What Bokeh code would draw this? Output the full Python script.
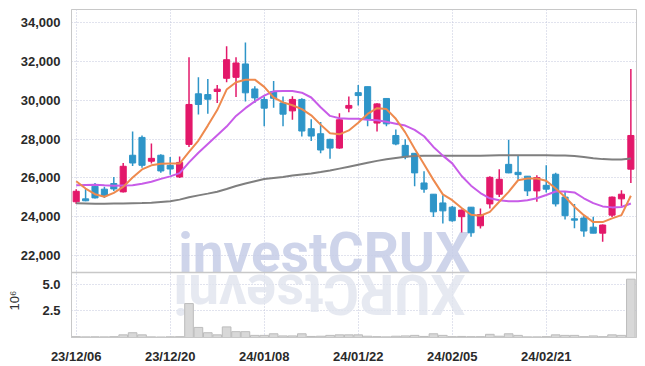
import math
from bokeh.plotting import figure
from bokeh.models import (Range1d, FixedTicker, NumeralTickFormatter, Label, Span, Title,
                          ColumnDataSource)
from bokeh.embed import file_html
from bokeh.resources import INLINE

dates = ["23/12/06", "23/12/07", "23/12/08", "23/12/11", "23/12/12", "23/12/13", "23/12/14", "23/12/15",
         "23/12/18", "23/12/19", "23/12/20", "23/12/21", "23/12/22", "23/12/26", "23/12/27", "23/12/28",
         "24/01/02", "24/01/03", "24/01/04", "24/01/05", "24/01/08", "24/01/09", "24/01/10", "24/01/11",
         "24/01/12", "24/01/15", "24/01/16", "24/01/17", "24/01/18", "24/01/19", "24/01/22", "24/01/23",
         "24/01/24", "24/01/25", "24/01/26", "24/01/29", "24/01/30", "24/01/31", "24/02/01", "24/02/02",
         "24/02/05", "24/02/06", "24/02/07", "24/02/08", "24/02/13", "24/02/14", "24/02/15", "24/02/16",
         "24/02/19", "24/02/20", "24/02/21", "24/02/22", "24/02/23", "24/02/26", "24/02/27", "24/02/28",
         "24/02/29", "24/03/04", "24/03/05", "24/03/06"]

opens = [24770, 24920, 25570, 25420, 25710, 25280, 27170, 28090, 26860, 27170,
         26650, 26050, 27730, 30340, 30300, 30460, 31140, 31190, 31880, 30590,
         30050, 30460, 29870, 29460, 30050, 28540, 28280, 27990, 27540, 29600,
         30400, 30710, 28830, 30100, 28190, 27680, 27270, 25740, 25160, 24710,
         24490, 24000, 24490, 23530, 24660, 25160, 26700, 26290, 26090, 25330,
         25620, 26190, 25010, 23890, 23930, 23460, 23150, 24080, 24920, 26450]
highs = [25420, 25450, 25740, 25540, 26050, 26770, 28400, 28190, 27780, 27220,
         27080, 27100, 32220, 31190, 31110, 30800, 32790, 32220, 32990, 30730,
         30200, 31000, 30200, 30220, 30110, 29030, 28880, 28020, 29340, 30200,
         30800, 30710, 29850, 30100, 28500, 27990, 27270, 26340, 25160, 25110,
         24550, 24370, 24500, 24420, 26090, 26450, 27970, 27170, 26090, 26140,
         26650, 26270, 25280, 24650, 24080, 24000, 23600, 25040, 25370, 31620]
lows = [24650, 24800, 24940, 24970, 25330, 25250, 26620, 26530, 26740, 26270,
        26170, 26000, 27590, 29270, 29310, 29870, 30940, 30170, 29940, 29870,
        28660, 29620, 28660, 29000, 28140, 27900, 27270, 26990, 27500, 29390,
        29740, 28660, 28400, 28670, 27680, 26960, 25570, 25230, 23990, 23650,
        23740, 23190, 22970, 23390, 24420, 25020, 26240, 25910, 25070, 24770,
        25250, 24530, 23860, 23400, 22970, 23150, 22710, 23990, 24540, 25740]
closes = [25310, 24820, 24970, 25090, 25430, 26600, 26770, 26650, 27010, 26360,
          26460, 26800, 29790, 29790, 30060, 30580, 32100, 31930, 30390, 30130,
          29600, 30110, 29290, 30050, 28420, 28160, 27440, 27540, 29000, 29740,
          30250, 29030, 29820, 28790, 27750, 27080, 26260, 25420, 24250, 24300,
          23790, 24340, 23170, 24110, 26030, 25930, 26260, 26170, 25330, 26020,
          25420, 24660, 24050, 23820, 23260, 23150, 23570, 25010, 25160, 28190]

ma_short = [25830, 25450, 25160, 25030, 25230, 25540, 26020, 26440, 26650, 26730,
            26740, 26740, 27340, 27930, 28700, 29500, 30560, 30940, 31070, 31070,
            30700, 30150, 29900, 29750, 29550, 29230, 28750, 28300, 28250, 28450,
            28850, 29300, 29600, 29550, 29050, 28350, 27500, 26700, 25900, 25150,
            24850, 24450, 24100, 24050, 24250, 24770, 25280, 25880, 25970, 25970,
            25850, 25450, 25020, 24510, 24080, 23720, 23720, 23910, 24080, 25080]
ma_mid = [25620, 25640, 25650, 25620, 25600, 25610, 25620, 25700, 25800, 25950,
          26080, 26250, 26800, 27300, 27750, 28200, 28650, 29200, 29600, 29950,
          30250, 30470, 30480, 30480, 30400, 30150, 29650, 29200, 29080, 29050,
          29050, 29000, 28980, 28900, 28800, 28700, 28480, 28150, 27600, 27150,
          26750, 26100, 25600, 25220, 24950, 24850, 24800, 24800, 24850, 24950,
          25120, 25300, 25300, 25250, 24950, 24700, 24530, 24480, 24500, 24680]
ma_long = [24690, 24680, 24670, 24670, 24680, 24680, 24690, 24700, 24720, 24760,
           24800, 24880, 25000, 25100, 25190, 25290, 25430, 25580, 25710, 25830,
           25940, 26000, 26050, 26120, 26180, 26230, 26300, 26380, 26480, 26580,
           26680, 26780, 26880, 26960, 27030, 27090, 27130, 27140, 27150, 27150,
           27150, 27150, 27140, 27150, 27160, 27170, 27170, 27170, 27170, 27170,
           27170, 27160, 27160, 27130, 27080, 27020, 26970, 26950, 26950, 27000]

volumes = [80000, 60000, 70000, 60000, 80000, 250000, 450000, 250000, 60000, 50000,
           70000, 80000, 3200000, 950000, 450000, 250000, 1000000, 550000, 550000, 200000,
           200000, 350000, 150000, 150000, 350000, 100000, 120000, 200000, 250000, 250000,
           250000, 120000, 80000, 60000, 120000, 150000, 200000, 100000, 350000, 200000,
           80000, 100000, 80000, 80000, 300000, 120000, 350000, 200000, 60000, 60000,
           80000, 250000, 200000, 200000, 80000, 150000, 80000, 250000, 200000, 5500000]

price_ticks = [22000, 24000, 26000, 28000, 30000, 32000, 34000]
vol_ticks = [2500000, 5000000]
vol_tick_labels = ["2.5", "5.0"]
vol_unit_label = "10⁶"
date_tick_idx = [0, 10, 20, 30, 40, 50]
watermark = "investCRUX"

RED = "#E3186A"
BLUE = "#2E95C8"
GRID = "#c3c6dc"
AXIS = "#c8c8c8"
LABEL_FONT = "Liberation Sans"

# panel geometry (pixels): price panel above, volume panel below
PRICE_PX, VOL_PX = 263, 65
price_lo, price_hi = 21120, 34690
vol_hi = 6130000
per_px = (price_hi - price_lo) / PRICE_PX
y_start = price_lo - VOL_PX * per_px
vol_end = vol_hi * (PRICE_PX + VOL_PX) / VOL_PX


def vol_to_price(v):
    return int(round(y_start + v / vol_end * (price_hi - y_start)))


idx = list(range(len(dates)))
src = ColumnDataSource(dict(
    x=idx, high=highs, low=lows,
    top=[max(o, c) for o, c in zip(opens, closes)],
    bottom=[min(o, c) for o, c in zip(opens, closes)],
    color=[RED if c >= o else BLUE for o, c in zip(opens, closes)],
))

p = figure(width=645, height=366, x_range=Range1d(-0.5, 59.6), y_range=Range1d(y_start, price_hi),
           toolbar_location=None, output_backend="svg",
           min_border_left=71, min_border_right=9, min_border_top=9, min_border_bottom=29)
p.extra_y_ranges = {"vol": Range1d(0, vol_end)}
p.outline_line_color = AXIS
p.background_fill_color = "white"
p.border_fill_color = "white"

vol_pos = [vol_to_price(v) for v in vol_ticks]
left_ticks = vol_pos + price_ticks
p.yaxis.ticker = FixedTicker(ticks=left_ticks)
p.yaxis.formatter = NumeralTickFormatter(format="0,0")
p.yaxis.major_label_overrides = {pos: lab for pos, lab in zip(vol_pos, vol_tick_labels)}
p.xaxis.ticker = FixedTicker(ticks=date_tick_idx)
p.xaxis.major_label_overrides = {i: dates[i] for i in date_tick_idx}
for ax in list(p.yaxis) + list(p.xaxis):
    ax.axis_line_color = AXIS
    ax.major_tick_line_color = None
    ax.minor_tick_line_color = None
    ax.major_label_text_font = LABEL_FONT
    ax.major_label_text_font_style = "bold"
    ax.major_label_text_font_size = "13px"
    ax.major_label_text_color = "#2a2a2a"
    ax.major_label_standoff = 5
p.ygrid.ticker = FixedTicker(ticks=left_ticks)
p.xgrid.ticker = FixedTicker(ticks=date_tick_idx)
for g in list(p.xgrid) + list(p.ygrid):
    g.grid_line_color = GRID
    g.grid_line_dash = "1 2"

# separator between the price and volume panels
p.add_layout(Span(location=price_lo, dimension="width", line_color=AXIS, line_width=1.5))

# volume unit label, on the left side next to the volume ticks
p.add_layout(Title(text=vol_unit_label, align="left", offset=27, standoff=-12, vertical_align="top",
                   text_font=LABEL_FONT, text_font_size="13px", text_font_style="normal",
                   text_color="#333333"), "left")

# watermark and its mirrored reflection (decoration)
p.add_layout(Label(x=10.85, y=price_lo + 20 * per_px, text=watermark,
                   text_font="Roboto", text_font_style="bold", text_font_size="55px",
                   text_color="#c6cce6", text_alpha=0.85, text_baseline="alphabetic",
                   text_align="left", level="underlay"))
p.add_layout(Label(x=41.4, y=price_lo - 21.5 * per_px, text=watermark[::-1],
                   angle=math.pi, text_font="Roboto", text_font_style="bold", text_font_size="55px",
                   text_color="#e0e3ee", text_alpha=0.8, text_baseline="alphabetic", text_align="left",
                   level="underlay"))

p.vbar(x=idx, top=volumes, width=0.92, fill_color="#d8d8d8", line_color="#bcbcbc", y_range_name="vol")

p.segment(x0="x", y0="low", x1="x", y1="high", color="color", line_width=1.5, source=src)
p.vbar(x="x", top="top", bottom="bottom", width=0.65, fill_color="color", line_color="color", source=src)

p.line(idx, ma_long, color="#7f7f7f", line_width=2)
p.line(idx, ma_mid, color="#C85CE8", line_width=2)
p.line(idx, ma_short, color="#EE8A4E", line_width=2)

open("out.html", "w").write(file_html(p, INLINE))
